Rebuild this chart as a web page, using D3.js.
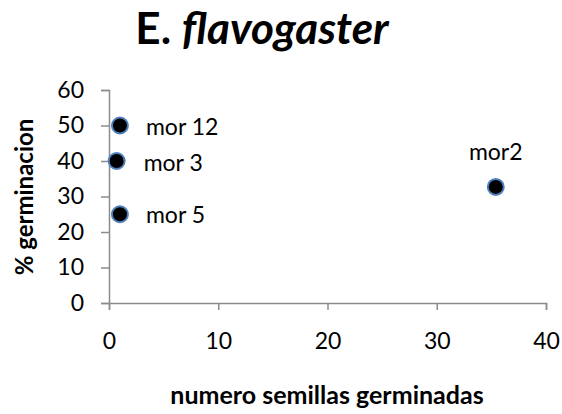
<!DOCTYPE html>
<html>
<head>
<meta charset="utf-8">
<script src="https://cdn.jsdelivr.net/npm/d3@7"></script>
<style>
  html, body { margin: 0; padding: 0; background: #fff; }
  svg { display: block; font-family: Lato, "Open Sans", sans-serif; }
</style>
</head>
<body>
<svg id="chart" width="562" height="414"></svg>
<script>
// Germination data per sample
const labels = ["mor 12", "mor 3", "mor 5", "mor2"];
const seedsGerminated = [1, 0.7, 1, 35.4];
const pctGermination = [50, 40, 25, 32.7];
const xTicks = [0, 10, 20, 30, 40];
const yTicks = [0, 10, 20, 30, 40, 50, 60];

const svg = d3.select("#chart");
const x = d3.scaleLinear().domain([0, 40]).range([109, 546]);
const y = d3.scaleLinear().domain([0, 60]).range([303, 90]);
const axisColor = "#8c8c8c";

// Title
const title = svg.append("text")
  .attr("x", 262).attr("y", 44)
  .attr("text-anchor", "middle")
  .attr("font-size", 44).attr("font-weight", "bold").attr("fill", "#000");
title.append("tspan").text("E. ");
title.append("tspan").attr("font-style", "italic").text("flavogaster");

// Y axis
const yAxis = svg.append("g")
  .attr("transform", `translate(${x(0)},0)`)
  .call(d3.axisLeft(y).tickValues(yTicks).tickSize(8).tickPadding(17).tickFormat(d3.format("d")));
yAxis.select(".domain").attr("stroke", axisColor).attr("stroke-width", 1.5);
yAxis.selectAll(".tick line").attr("stroke", axisColor).attr("stroke-width", 1.5);
yAxis.selectAll(".tick text").attr("font-size", 23).attr("fill", "#000")
  .attr("font-family", "Lato, sans-serif");

// X axis
const xAxis = svg.append("g")
  .attr("transform", `translate(0,${y(0)})`)
  .call(d3.axisBottom(x).tickValues(xTicks).tickSize(7).tickPadding(23).tickFormat(d3.format("d")));
xAxis.select(".domain").attr("stroke", axisColor).attr("stroke-width", 1.5);
xAxis.selectAll(".tick line").attr("stroke", axisColor).attr("stroke-width", 1.5);
xAxis.selectAll(".tick text").attr("font-size", 23).attr("fill", "#000")
  .attr("font-family", "Lato, sans-serif");

// Axis titles
svg.append("text")
  .attr("x", 327).attr("y", 404)
  .attr("text-anchor", "middle")
  .attr("font-size", 25).attr("font-weight", "bold")
  .text("numero semillas germinadas");

svg.append("text")
  .attr("transform", "translate(33,197) rotate(-90)")
  .attr("text-anchor", "middle")
  .attr("font-size", 24).attr("font-weight", "bold")
  .text("% germinacion");

// Points
const pts = labels.map((l, i) => ({ label: l, sx: seedsGerminated[i], py: pctGermination[i] }));
svg.append("g").selectAll("circle").data(pts).join("circle")
  .attr("cx", d => x(d.sx)).attr("cy", d => y(d.py))
  .attr("r", 8)
  .attr("fill", "#000")
  .attr("stroke", "#4f81bd").attr("stroke-width", 2);

// Point labels
const labelOffsets = { "mor 12": [26, 9], "mor 3": [27, 10], "mor 5": [26, 9], "mor2": [0, -27] };
svg.append("g").selectAll("text").data(pts).join("text")
  .attr("x", d => x(d.sx) + labelOffsets[d.label][0])
  .attr("y", d => y(d.py) + labelOffsets[d.label][1])
  .attr("text-anchor", d => d.label === "mor2" ? "middle" : "start")
  .attr("font-size", 23).attr("fill", "#000")
  .text(d => d.label);
</script>
</body>
</html>
